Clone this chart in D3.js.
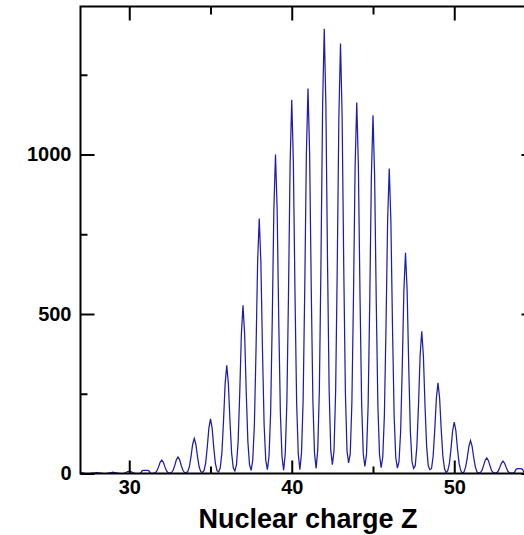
<!DOCTYPE html>
<html>
<head>
<meta charset="utf-8">
<script src="https://cdn.jsdelivr.net/npm/d3@7"></script>
<style>
  html, body { margin: 0; padding: 0; background: #fff; }
  svg { display: block; }
  text { font-family: "Liberation Sans", Arial, Helvetica, sans-serif; font-weight: bold; fill: #000; }
</style>
</head>
<body>
<svg id="chart" width="524" height="535"></svg>
<script>
// ---- data ----
const chargeZ = [27,28,29,30,31,32,33,34,35,36,37,38,39,40,41,42,43,44,45,46,47,48,49,50,51,52,53,54];
// sample offsets around each integer Z (bin positions)
const binOffsets = [-0.5,-0.4,-0.3,-0.2,-0.1,0,0.1,0.2,0.3,0.4];
// counts at each bin, one row per Z
const binCounts = [
  [0,0,0,1,2,2,2,1,0,0],
  [0,0,1,1,2,3,2,1,1,0],
  [0,0,1,2,3,4,3,2,1,0],
  [0,0,1,3,6,7,6,3,1,0],
  [0,0,1,9,10,10,10,9,1,0],
  [1,2,8,20,35,42,35,20,8,2],
  [1,3,10,25,43,52,43,25,10,3],
  [2,6,21,53,91,110,91,53,21,6],
  [3,9,32,82,142,171,142,82,32,9],
  [5,18,64,163,281,339,281,163,64,18],
  [8,28,100,253,437,527,437,253,100,28],
  [10,42,152,384,663,799,663,384,152,42],
  [12,53,190,480,830,1000,830,480,190,53],
  [10,62,223,563,973,1172,973,563,223,62],
  [12,64,229,579,1002,1207,1002,579,229,64],
  [16,74,265,669,1157,1394,1157,669,265,74],
  [28,71,256,647,1119,1348,1119,647,256,71],
  [33,62,221,558,965,1163,965,558,221,62],
  [22,60,213,539,932,1123,932,539,213,60],
  [18,51,182,459,793,956,793,459,182,51],
  [17,37,131,332,574,692,574,332,131,37],
  [16,24,85,214,370,446,370,214,85,24],
  [12,15,54,136,236,284,236,136,54,15],
  [3,9,31,77,134,161,134,77,31,9],
  [1,5,20,49,85,103,85,49,20,5],
  [1,3,9,24,41,49,41,24,9,3],
  [1,2,7,19,32,39,32,19,7,2],
  [1,1,3,13,15,15,15,13,3,1]
];
const xMajorTicks = [30,40,50];
const xMinorTicks = [35,45];
const yMajorTicks = [0,500,1000];
const yMinorTicks = [250,750,1250];
const xTitle = "Nuclear charge Z";

// ---- build trace ----
const trace = [];
chargeZ.forEach((z, i) => {
  binOffsets.forEach((o, j) => trace.push({ z: z + o, c: binCounts[i][j] }));
});
trace.push({ z: 54.5, c: 0 }, { z: 55, c: 0 });

// ---- layout ----
const svg = d3.select("#chart");
const pL = 80.5, pR = 535.5, pT = 6.5, pB = 473.5;
const x = d3.scaleLinear().domain([27, 55]).range([pL, pR]);
const y = d3.scaleLinear().domain([0, 1464]).range([pB, pT]);

svg.append("defs").append("clipPath").attr("id", "plotclip")
  .append("rect").attr("x", pL).attr("y", pT).attr("width", pR - pL).attr("height", pB - pT);

// trace line
svg.append("path")
  .datum(trace)
  .attr("clip-path", "url(#plotclip)")
  .attr("fill", "none")
  .attr("stroke", "#1c1cb2")
  .attr("stroke-width", 1.25)
  .attr("d", d3.line().x(d => x(d.z)).y(d => y(d.c)));

function styleAxis(g) {
  g.select(".domain").remove();
  g.selectAll(".tick line").attr("stroke", "#000").attr("stroke-width", 2);
  g.selectAll("text").attr("font-size", 20).attr("fill", "#000");
}

// bottom
svg.append("g").attr("transform", `translate(0,${pB})`)
  .call(d3.axisBottom(x).tickValues(xMajorTicks).tickSizeInner(-13).tickSizeOuter(0).tickPadding(6.5).tickFormat(d3.format("d")))
  .call(styleAxis);
svg.append("g").attr("transform", `translate(0,${pB})`)
  .call(d3.axisBottom(x).tickValues(xMinorTicks).tickSizeInner(-7).tickSizeOuter(0).tickFormat(""))
  .call(styleAxis);
// top
svg.append("g").attr("transform", `translate(0,${pT})`)
  .call(d3.axisTop(x).tickValues(xMajorTicks).tickSizeInner(-14).tickSizeOuter(0).tickFormat(""))
  .call(styleAxis);
svg.append("g").attr("transform", `translate(0,${pT})`)
  .call(d3.axisTop(x).tickValues(xMinorTicks).tickSizeInner(-8).tickSizeOuter(0).tickFormat(""))
  .call(styleAxis);
// left
svg.append("g").attr("transform", `translate(${pL},0)`)
  .call(d3.axisLeft(y).tickValues(yMajorTicks).tickSizeInner(-14).tickSizeOuter(0).tickPadding(9).tickFormat(d3.format("d")))
  .call(styleAxis);
svg.append("g").attr("transform", `translate(${pL},0)`)
  .call(d3.axisLeft(y).tickValues(yMinorTicks).tickSizeInner(-7).tickSizeOuter(0).tickFormat(""))
  .call(styleAxis);
// right
svg.append("g").attr("transform", `translate(${pR},0)`)
  .call(d3.axisRight(y).tickValues(yMajorTicks).tickSizeInner(-14).tickSizeOuter(0).tickFormat(""))
  .call(styleAxis);
svg.append("g").attr("transform", `translate(${pR},0)`)
  .call(d3.axisRight(y).tickValues(yMinorTicks).tickSizeInner(-7).tickSizeOuter(0).tickFormat(""))
  .call(styleAxis);

// frame
svg.append("rect")
  .attr("x", pL).attr("y", pT).attr("width", pR - pL).attr("height", pB - pT)
  .attr("fill", "none").attr("stroke", "#000").attr("stroke-width", 2);

// title
svg.append("text")
  .attr("x", 308).attr("y", 528)
  .attr("text-anchor", "middle")
  .attr("font-size", 27)
  .text(xTitle);
</script>
</body>
</html>
